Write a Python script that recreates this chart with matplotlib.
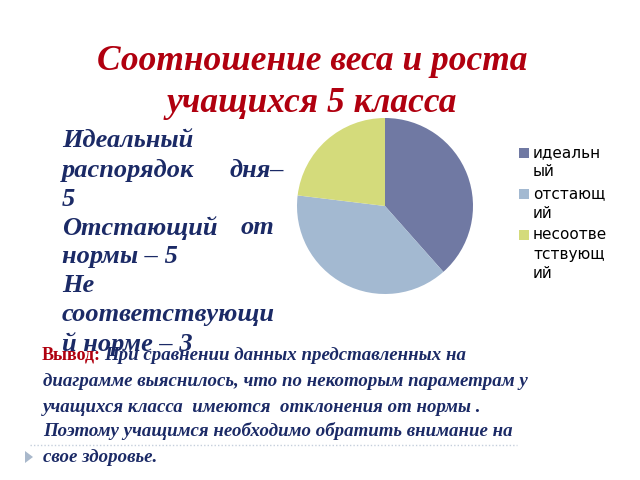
import matplotlib
matplotlib.use("Agg")
import matplotlib.pyplot as plt
from matplotlib.patches import Rectangle, Polygon
from matplotlib.lines import Line2D

# ---- data ----
categories = ["идеальный", "отстающий", "несоответствующий"]
values = [5, 5, 3]
legend_lines = [["идеальн", "ый"], ["отстающ", "ий"], ["несоотве", "тствующ", "ий"]]
colors = ["#7079A3", "#A3B9D1", "#D4DB7B"]

title_lines = ["Соотношение веса и роста", "учащихся 5 класса"]
left_lines = [("Идеальный", None), ("распорядок", "дня–"), ("5", None),
              ("Отстающий", "от"), ("нормы – 5", None), ("Не", None),
              ("соответствующи", None), ("й норме – 3", None)]
conclusion_head = "Вывод:"
conclusion_lines = ["При сравнении данных представленных на",
                    "диаграмме выяснилось, что по некоторым параметрам у",
                    "учащихся класса  имеются  отклонения от нормы .",
                    "Поэтому учащимся необходимо обратить внимание на",
                    "свое здоровье."]

W, H = 640, 480
fig = plt.figure(figsize=(6.4, 4.8), dpi=100)
fig.patch.set_facecolor("white")

def fx(x):
    return x / W

def fy(y):
    return 1 - y / H

serif = "Liberation Serif"
red = "#B0000F"
navy = "#1B2A66"

# title
for i, t in enumerate(title_lines):
    fig.text(fx(312), fy(62 + i * 41), t, ha="center", va="center",
             fontsize=25.5, fontfamily=serif, fontweight="bold", fontstyle="italic",
             color=red)

# left text
left_y = [140, 170, 199, 228, 257, 286, 315, 344]
left_right = {1: 284, 3: 274}
for i, (a, b) in enumerate(left_lines):
    fig.text(fx(62), fy(left_y[i]), a, ha="left", va="center", fontsize=19,
             fontfamily=serif, fontweight="bold", fontstyle="italic", color=navy)
    if b is not None:
        fig.text(fx(left_right[i]), fy(left_y[i]), b, ha="right", va="center",
                 fontsize=19, fontfamily=serif, fontweight="bold",
                 fontstyle="italic", color=navy)

# pie
ax = fig.add_axes([fx(297), fy(294), 176 / W, 176 / H])
wedges, _ = ax.pie(values, colors=colors, startangle=90, counterclock=False,
                   radius=1, wedgeprops=dict(linewidth=0))
ax.set_xlim(-1, 1)
ax.set_ylim(-1, 1)
ax.set_aspect("equal")
ax.axis("off")

# legend
ly = 153
for k, lines in enumerate(legend_lines):
    fig.patches.append(Rectangle((fx(519), fy(ly + 5)), 10 / W, 10 / H,
                                 transform=fig.transFigure, facecolor=colors[k],
                                 edgecolor="none"))
    for j, s in enumerate(lines):
        fig.text(fx(533), fy(ly + j * 19), s, ha="left", va="center",
                 fontsize=11, fontfamily="DejaVu Sans", color="black")
    ly += len(lines) * 19 + 3

# conclusion
cy = [355, 381, 407, 431, 457]
fig.text(fx(42), fy(cy[0]), conclusion_head, ha="left", va="center", fontsize=13,
         fontfamily=serif, fontweight="bold", color=red)
for i, s in enumerate(conclusion_lines):
    x0 = 104 if i == 0 else 43
    fig.text(fx(x0), fy(cy[i]), s, ha="left", va="center", fontsize=13.6,
             fontfamily=serif, fontweight="bold", fontstyle="italic", color=navy)

# decorative dotted line and marker
fig.lines.append(Line2D([fx(30), fx(517)], [fy(445), fy(445)], transform=fig.transFigure,
                        color="#C5CFDC", linestyle=(0, (1, 1.5)), linewidth=1))
fig.patches.append(Polygon([[fx(25), fy(451)], [fx(25), fy(463)], [fx(33), fy(457)]],
                           closed=True, transform=fig.transFigure,
                           facecolor="#A9B8CB", edgecolor="none"))

fig.savefig("out.png", dpi=100, facecolor="white")
